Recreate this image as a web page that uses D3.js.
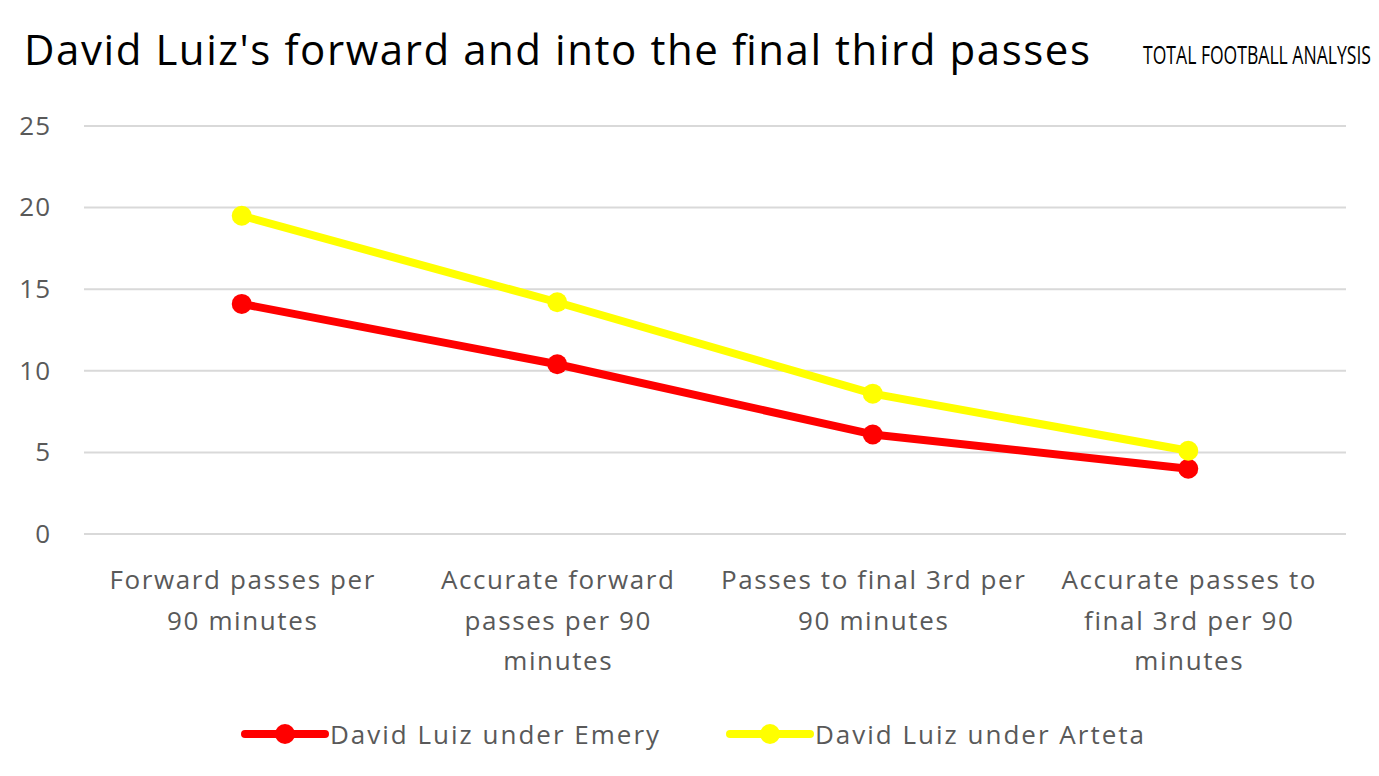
<!DOCTYPE html>
<html>
<head>
<meta charset="utf-8">
<script src="https://cdn.jsdelivr.net/npm/d3@7"></script>
<style>
  body { margin: 0; background: #fff; }
  text { font-family: "Open Sans", "Noto Sans", sans-serif; }
</style>
</head>
<body>
<div class="chart"></div>
<script>
// chart data
var categories = [
  ["Forward passes per", "90 minutes"],
  ["Accurate forward", "passes per 90", "minutes"],
  ["Passes to final 3rd per", "90 minutes"],
  ["Accurate passes to", "final 3rd per 90", "minutes"]
];
var seriesNames = ["David Luiz under Emery", "David Luiz under Arteta"];
var emery = [14.1, 10.4, 6.1, 4.0];
var arteta = [19.5, 14.2, 8.6, 5.1];
var yTicks = [0, 5, 10, 15, 20, 25];
var colors = ["#ff0000", "#ffff00"];

var svgWidth = 1379, svgHeight = 776;
var margin = { top: 126, bottom: 242, left: 84, right: 33 };
var width = svgWidth - margin.left - margin.right;
var height = svgHeight - margin.top - margin.bottom;

var svg = d3.select(".chart")
  .append("svg")
  .attr("width", svgWidth)
  .attr("height", svgHeight);

// title
svg.append("text")
  .attr("x", 24)
  .attr("y", 65)
  .attr("textLength", 1066)
  .attr("lengthAdjust", "spacing")
  .style("font-size", "42px")
  .attr("fill", "#000")
  .text("David Luiz's forward and into the final third passes");

// logo (condensed lettering)
svg.append("text")
  .attr("transform", "translate(1143, 64) scale(1, 1.7)")
  .attr("textLength", 228)
  .attr("lengthAdjust", "spacingAndGlyphs")
  .style("font-size", "15px")
  .attr("fill", "#000")
  .text("TOTAL FOOTBALL ANALYSIS");

var chartGroup = svg.append("g")
  .attr("transform", `translate(${margin.left}, ${margin.top})`);

var xScale = d3.scaleBand()
  .domain(d3.range(categories.length))
  .range([0, width]);

var yScale = d3.scaleLinear()
  .domain([0, 25])
  .range([height, 0]);

// gridlines
chartGroup.selectAll(".grid")
  .data(yTicks)
  .enter()
  .append("line")
  .attr("x1", 0)
  .attr("x2", width)
  .attr("y1", d => yScale(d))
  .attr("y2", d => yScale(d))
  .attr("stroke", "#d9d9d9")
  .attr("stroke-width", 2);

// y axis labels
var yAxis = d3.axisLeft(yScale).tickValues(yTicks).tickSize(0).tickPadding(33);
var yG = chartGroup.append("g").call(yAxis);
yG.select(".domain").remove();
yG.selectAll("text")
  .style("font-size", "26px")
  .style("letter-spacing", "1px")
  .style("font-family", "'Open Sans', sans-serif")
  .attr("fill", "#595959");

// x axis labels
var xG = chartGroup.append("g")
  .attr("transform", `translate(0, ${height})`);
xG.selectAll("text")
  .data(categories)
  .enter()
  .append("text")
  .attr("x", (d, i) => xScale(i) + xScale.bandwidth() / 2 + 1)
  .attr("y", 55)
  .attr("text-anchor", "middle")
  .style("font-size", "26px")
  .style("letter-spacing", "1.6px")
  .attr("fill", "#595959")
  .each(function(d) {
    var t = d3.select(this);
    d.forEach(function(line, j) {
      t.append("tspan")
        .attr("x", t.attr("x"))
        .attr("dy", j === 0 ? 0 : 40.5)
        .text(line);
    });
  });

// lines
var line = d3.line()
  .x((d, i) => xScale(i) + xScale.bandwidth() / 2)
  .y(d => yScale(d));

[emery, arteta].forEach(function(series, s) {
  chartGroup.append("path")
    .attr("d", line(series))
    .attr("fill", "none")
    .attr("stroke", colors[s])
    .attr("stroke-width", 8)
    .attr("stroke-linejoin", "round")
    .attr("stroke-linecap", "round");

  chartGroup.selectAll(".pt" + s)
    .data(series)
    .enter()
    .append("circle")
    .attr("cx", (d, i) => xScale(i) + xScale.bandwidth() / 2)
    .attr("cy", d => yScale(d))
    .attr("r", 10)
    .attr("fill", colors[s]);
});

// legend
var legendX = [245, 730];
seriesNames.forEach(function(name, s) {
  var g = svg.append("g")
    .attr("transform", `translate(${legendX[s]}, 734)`);
  g.append("line")
    .attr("x1", 0).attr("x2", 80)
    .attr("y1", 0).attr("y2", 0)
    .attr("stroke", colors[s])
    .attr("stroke-width", 8)
    .attr("stroke-linecap", "round");
  g.append("circle")
    .attr("cx", 40).attr("cy", 0)
    .attr("r", 10)
    .attr("fill", colors[s]);
  g.append("text")
    .attr("x", 85)
    .attr("y", 10)
    .style("font-size", "26px")
    .style("letter-spacing", "2px")
    .attr("fill", "#595959")
    .text(name);
});
</script>
</body>
</html>
